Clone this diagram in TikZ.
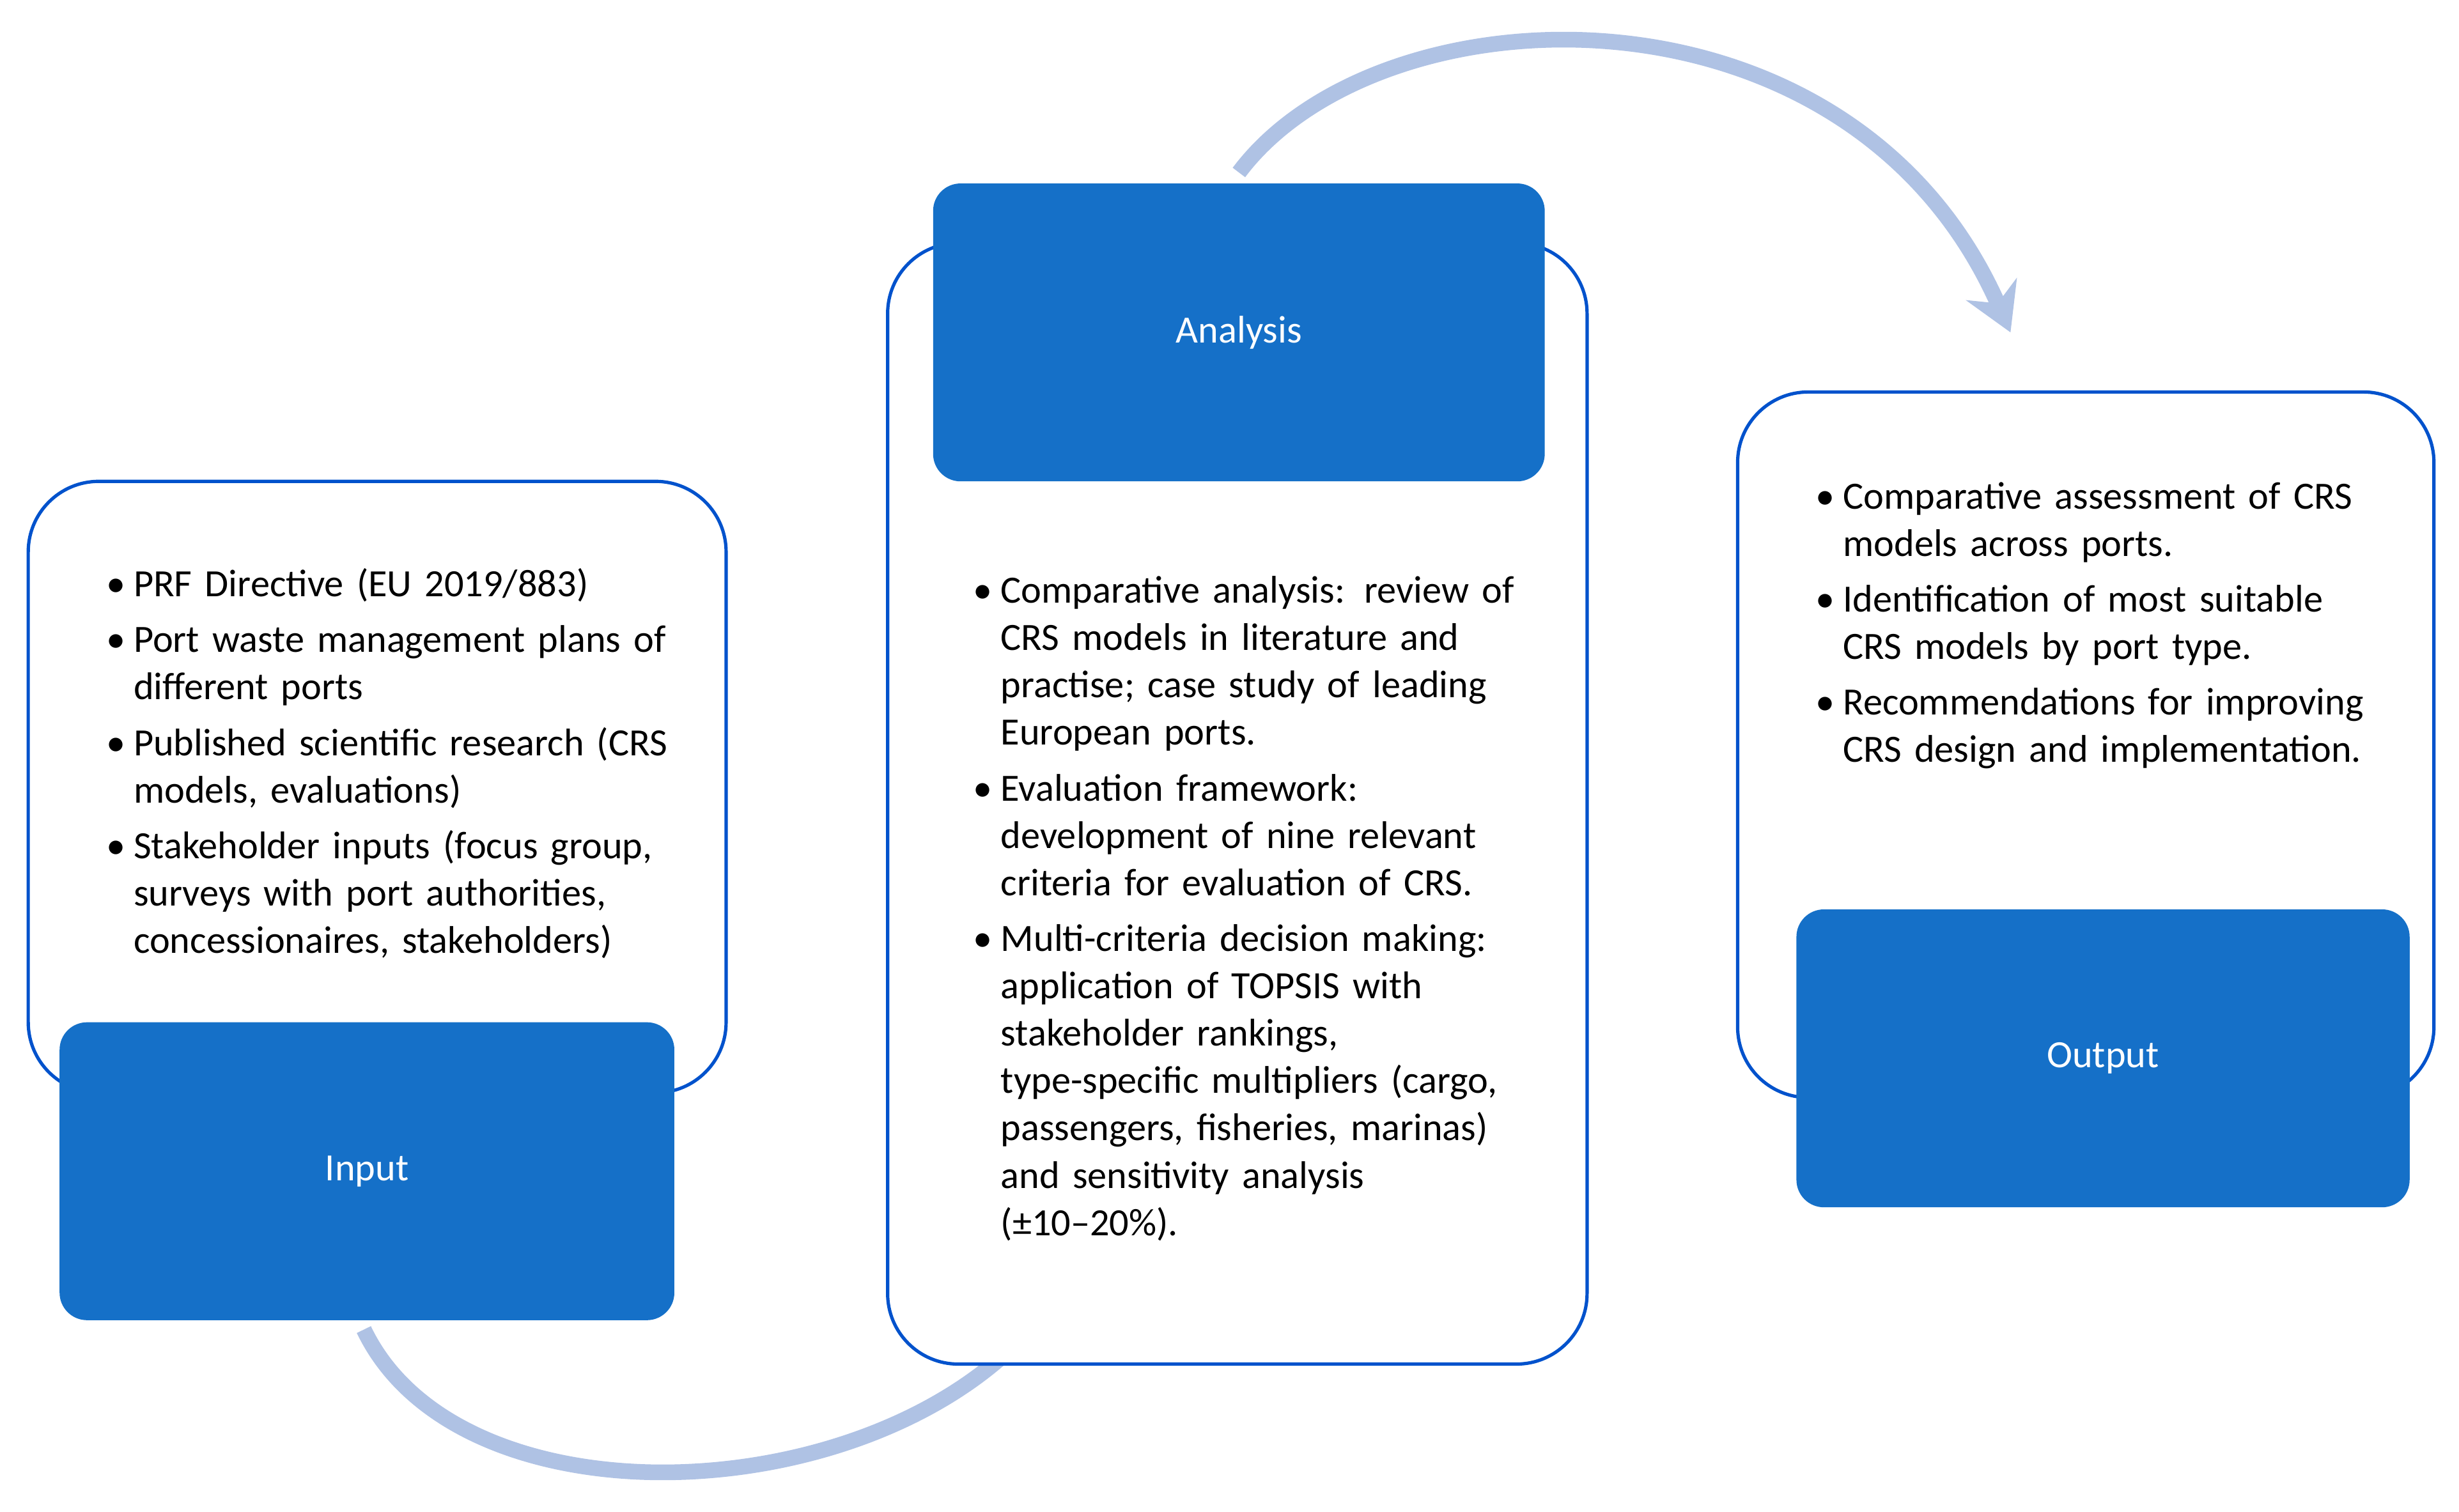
\documentclass[tikz,border=0pt]{standalone}
\usepackage{fontspec}
\setmainfont{Carlito}
\usepackage{enumitem}
\usetikzlibrary{arrows.meta}
\begin{document}
\begin{tikzpicture}[x=0.02cm,y=-0.02cm,
  frame/.style={draw=blue!60!cyan!80!black,line width=1.2pt,fill=white,rounded corners=0.9cm},
  head/.style={fill=myblue,draw=none,rounded corners=0.35cm,text=white,font=\fontsize{14}{17}\selectfont},
  flow/.style={draw=arccol,line width=0.2cm,-{Stealth[length=0.6cm,width=0.7cm]}},
  txt/.style={anchor=north west,inner sep=0,align=left,font=\fontsize{14}{17.2}\selectfont}]
\definecolor{myblue}{HTML}{1570C8}
\definecolor{arccol}{HTML}{AFC2E4}
\useasboundingbox (0,0) rectangle (1568,964);
% arcs
\coordinate (a1s) at (232,848); \coordinate (a1e) at (695,782);
\coordinate (a2s) at (790,110); \coordinate (a2e) at (1282,212);
\draw[flow] (a1s) .. controls (300,990) and (620,960) .. (a1e);
\draw[flow] (a2s) .. controls (880,-10) and (1180,-20) .. (a2e);
% input
\draw[frame] (18,307) rectangle (463,697);
\node[head,minimum width=392*0.02cm,minimum height=190*0.02cm] (input) at (234,747) {Input};
\node[txt,text width=8.2cm] (intxt) at (62,350) {%
\begin{itemize}[leftmargin=13pt,labelsep=3pt,itemsep=3pt,topsep=0pt,parsep=0pt]
\item PRF Directive (EU 2019/883)
\item Port waste management plans of different ports
\item Published scientific research (CRS models, evaluations)
\item Stakeholder inputs (focus group, surveys with port authorities, concessionaires, stakeholders)
\end{itemize}};
% analysis
\draw[frame] (566,155) rectangle (1012,870);
\node[head,minimum width=390*0.02cm,minimum height=190*0.02cm] (analysis) at (790,212) {Analysis};
\node[txt,text width=7.3cm] (antxt) at (615,354) {%
\begin{itemize}[leftmargin=13pt,labelsep=3pt,itemsep=3pt,topsep=0pt,parsep=0pt]
\item Comparative analysis: review of CRS models in literature and practise; case study of leading European ports.
\item Evaluation framework: development of nine relevant criteria for evaluation of CRS.
\item Multi-criteria decision making:\ \ application of TOPSIS with stakeholder rankings, type-specific multipliers (cargo, passengers, fisheries, marinas) and sensitivity analysis (±10–20\%).
\end{itemize}};
% output
\draw[frame] (1108,250) rectangle (1552,700);
\node[head,minimum width=391*0.02cm,minimum height=190*0.02cm] (output) at (1341,675) {Output};
\node[txt,text width=7.3cm] (outtxt) at (1152,294) {%
\begin{itemize}[leftmargin=13pt,labelsep=3pt,itemsep=3pt,topsep=0pt,parsep=0pt]
\item Comparative assessment of CRS models across ports.
\item Identification of most suitable CRS models by port type.
\item Recommendations for improving CRS design and implementation.
\end{itemize}};
\end{tikzpicture}
\end{document}
